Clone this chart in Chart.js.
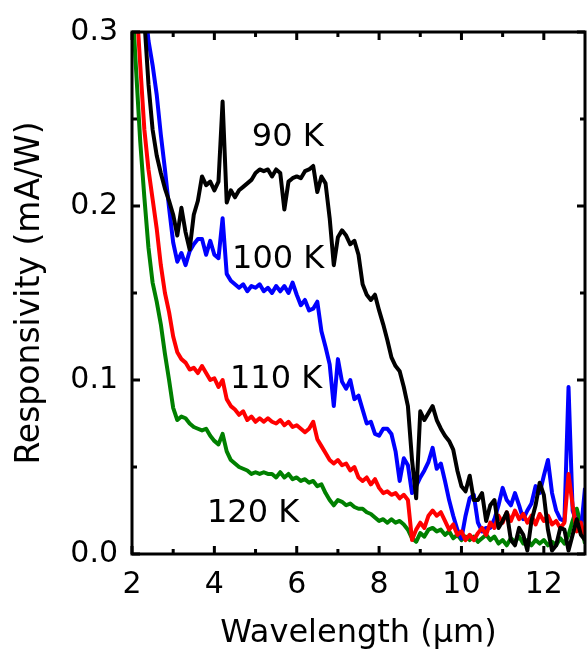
<!DOCTYPE html>
<html>
<head>
<meta charset="utf-8">
<script src="https://cdn.jsdelivr.net/npm/chart.js@4/dist/chart.umd.min.js"></script>
<style>
  html, body { margin: 0; padding: 0; background: #fff; }
  canvas { display: block; }
</style>
</head>
<body>
<canvas id="respChart" width="588" height="652"></canvas>
<script>
// wavelength grid (um) and responsivity (mA/W)
const wavelength = [
  2.0, 2.1, 2.2, 2.3, 2.4, 2.5, 2.6, 2.7, 2.8, 2.9,
  3.0, 3.1, 3.2, 3.3, 3.4, 3.5, 3.6, 3.7, 3.8, 3.9,
  4.0, 4.1, 4.2, 4.3, 4.4, 4.5, 4.6, 4.7, 4.8, 4.9,
  5.0, 5.1, 5.2, 5.3, 5.4, 5.5, 5.6, 5.7, 5.8, 5.9,
  6.0, 6.1, 6.2, 6.3, 6.4, 6.5, 6.6, 6.7, 6.8, 6.9,
  7.0, 7.1, 7.2, 7.3, 7.4, 7.5, 7.6, 7.7, 7.8, 7.9,
  8.0, 8.1, 8.2, 8.3, 8.4, 8.5, 8.6, 8.7, 8.8, 8.9,
  9.0, 9.1, 9.2, 9.3, 9.4, 9.5, 9.6, 9.7, 9.8, 9.9,
  10.0, 10.1, 10.2, 10.3, 10.4, 10.5, 10.6, 10.7, 10.8, 10.9,
  11.0, 11.1, 11.2, 11.3, 11.4, 11.5, 11.6, 11.7, 11.8, 11.9,
  12.0, 12.1, 12.2, 12.3, 12.4, 12.5, 12.6, 12.7, 12.8, 12.9,
  13.0
];

const resp90K = [
  0.36, 0.35, 0.33, 0.307, 0.270, 0.244, 0.229, 0.219, 0.210, 0.203,
  0.195, 0.183, 0.199, 0.185, 0.175, 0.195, 0.203, 0.217, 0.212, 0.214,
  0.209, 0.214, 0.260, 0.202, 0.209, 0.205, 0.209, 0.211, 0.213, 0.215,
  0.219, 0.221, 0.220, 0.221, 0.217, 0.221, 0.219, 0.198, 0.214, 0.216,
  0.217, 0.216, 0.220, 0.221, 0.223, 0.208, 0.217, 0.213, 0.193, 0.166,
  0.182, 0.186, 0.183, 0.178, 0.180, 0.172, 0.155, 0.149, 0.146, 0.149,
  0.140, 0.132, 0.123, 0.113, 0.108, 0.105, 0.096, 0.085, 0.054, 0.032,
  0.082, 0.077, 0.081, 0.085, 0.077, 0.072, 0.068, 0.065, 0.060, 0.048,
  0.039, 0.036, 0.045, 0.031, 0.031, 0.035, 0.019, 0.028, 0.031, 0.015,
  0.019, 0.024, 0.008, 0.005, 0.015, 0.011, 0.002, 0.019, 0.028, 0.041,
  0.034, 0.014, 0.002, 0.005, 0.015, 0.014, 0.002, 0.011, 0.020, 0.011,
  0.008
];

const resp100K = [
  0.38, 0.36, 0.34, 0.32, 0.295, 0.281, 0.264, 0.241, 0.221, 0.199,
  0.179, 0.168, 0.173, 0.166, 0.174, 0.178, 0.181, 0.181, 0.172, 0.180,
  0.172, 0.170, 0.193, 0.161, 0.157, 0.155, 0.153, 0.155, 0.151, 0.154,
  0.153, 0.155, 0.151, 0.153, 0.150, 0.154, 0.151, 0.154, 0.150, 0.156,
  0.149, 0.143, 0.146, 0.140, 0.141, 0.145, 0.128, 0.119, 0.109, 0.085,
  0.112, 0.099, 0.095, 0.100, 0.089, 0.091, 0.083, 0.075, 0.076, 0.069,
  0.068, 0.072, 0.072, 0.069, 0.059, 0.042, 0.055, 0.051, 0.035, 0.039,
  0.044, 0.048, 0.053, 0.061, 0.049, 0.052, 0.042, 0.031, 0.022, 0.014,
  0.009, 0.022, 0.032, 0.034, 0.018, 0.013, 0.015, 0.015, 0.020, 0.028,
  0.038, 0.031, 0.028, 0.035, 0.028, 0.020, 0.025, 0.029, 0.039, 0.035,
  0.045, 0.054, 0.035, 0.025, 0.020, 0.019, 0.096, 0.025, 0.018, 0.013,
  0.038
];

const resp110K = [
  0.34, 0.32, 0.281, 0.244, 0.221, 0.204, 0.187, 0.166, 0.150, 0.139,
  0.125, 0.116, 0.112, 0.110, 0.106, 0.107, 0.104, 0.108, 0.104, 0.100,
  0.101, 0.096, 0.100, 0.089, 0.085, 0.083, 0.080, 0.082, 0.077, 0.079,
  0.076, 0.078, 0.076, 0.078, 0.076, 0.075, 0.077, 0.074, 0.076, 0.073,
  0.074, 0.072, 0.070, 0.072, 0.076, 0.066, 0.062, 0.058, 0.054, 0.052,
  0.054, 0.051, 0.052, 0.048, 0.050, 0.044, 0.042, 0.044, 0.040, 0.043,
  0.038, 0.035, 0.036, 0.034, 0.035, 0.032, 0.034, 0.031, 0.008, 0.014,
  0.018, 0.015, 0.022, 0.025, 0.022, 0.024, 0.019, 0.014, 0.017, 0.011,
  0.013, 0.008, 0.011, 0.008, 0.012, 0.015, 0.011, 0.018, 0.015, 0.022,
  0.018, 0.024, 0.019, 0.025, 0.020, 0.023, 0.018, 0.022, 0.017, 0.023,
  0.019, 0.022, 0.017, 0.019, 0.015, 0.018, 0.046, 0.028, 0.013, 0.018,
  0.009
];

const resp120K = [
  0.32, 0.278, 0.237, 0.205, 0.176, 0.156, 0.145, 0.132, 0.115, 0.100,
  0.084, 0.077, 0.079, 0.078, 0.075, 0.073, 0.072, 0.071, 0.072, 0.068,
  0.065, 0.063, 0.069, 0.059, 0.054, 0.052, 0.050, 0.049, 0.048, 0.046,
  0.047, 0.046, 0.047, 0.046, 0.046, 0.044, 0.047, 0.044, 0.046, 0.043,
  0.044, 0.042, 0.043, 0.041, 0.042, 0.039, 0.040, 0.035, 0.031, 0.028,
  0.031, 0.030, 0.028, 0.029, 0.027, 0.026, 0.026, 0.024, 0.023, 0.021,
  0.019, 0.020, 0.018, 0.020, 0.018, 0.019, 0.017, 0.014, 0.009, 0.007,
  0.012, 0.010, 0.014, 0.015, 0.013, 0.014, 0.011, 0.013, 0.009, 0.011,
  0.008, 0.010, 0.008, 0.010, 0.007, 0.009, 0.011, 0.008, 0.010, 0.006,
  0.008, 0.005, 0.009, 0.007, 0.010, 0.006, 0.008, 0.005, 0.008, 0.006,
  0.008, 0.005, 0.007, 0.005, 0.009, 0.006, 0.011, 0.019, 0.026, 0.017,
  0.006
];

const xTickValues = [2, 4, 6, 8, 10, 12];
const xMinorValues = [3, 5, 7, 9, 11];
const yTickValues = [0, 0.1, 0.2, 0.3];
const yMinorValues = [0.05, 0.15, 0.25];

// curve labels and where they sit (left edge, vertical centre, data units)
const curveLabels = ["90 K", "100 K", "110 K", "120 K"];
const curveLabelX = [4.91, 4.43, 4.38, 3.82];
const curveLabelY = [0.239, 0.169, 0.100, 0.023];

const FONT = "'DejaVu Sans', 'Liberation Sans', sans-serif";

function toPoints(values) {
  return wavelength.map((w, i) => ({ x: w, y: values[i] }));
}

// frame, inward ticks on all four sides, and the temperature labels
const frameAndLabels = {
  id: "frameAndLabels",
  afterDatasetsDraw(chart) {
    const { ctx, chartArea: a, scales: { x, y } } = chart;
    ctx.save();
    ctx.strokeStyle = "#000";
    ctx.lineWidth = 3;
    ctx.beginPath();
    const xTick = (v, len) => {
      const px = x.getPixelForValue(v);
      ctx.moveTo(px, a.bottom); ctx.lineTo(px, a.bottom - len);
      ctx.moveTo(px, a.top); ctx.lineTo(px, a.top + len);
    };
    const yTick = (v, len) => {
      const py = y.getPixelForValue(v);
      ctx.moveTo(a.left, py); ctx.lineTo(a.left + len, py);
      ctx.moveTo(a.right, py); ctx.lineTo(a.right - len, py);
    };
    xTickValues.forEach(v => xTick(v, 8));
    xMinorValues.forEach(v => xTick(v, 5));
    yTickValues.forEach(v => yTick(v, 8));
    yMinorValues.forEach(v => yTick(v, 5));
    ctx.stroke();
    ctx.strokeRect(a.left, a.top, a.right - a.left, a.bottom - a.top);

    ctx.fillStyle = "#000";
    ctx.font = "32px " + FONT;
    ctx.textAlign = "left";
    ctx.textBaseline = "middle";
    curveLabels.forEach((t, i) => {
      ctx.fillText(t, x.getPixelForValue(curveLabelX[i]), y.getPixelForValue(curveLabelY[i]));
    });
    ctx.restore();
  }
};

const ctx = document.getElementById("respChart").getContext("2d");
new Chart(ctx, {
  type: "line",
  data: {
    datasets: [
      { label: "90 K", data: toPoints(resp90K), borderColor: "#000000", order: 0 },
      { label: "110 K", data: toPoints(resp110K), borderColor: "#ff0000", order: 1 },
      { label: "100 K", data: toPoints(resp100K), borderColor: "#0000ff", order: 2 },
      { label: "120 K", data: toPoints(resp120K), borderColor: "#008000", order: 3 }
    ]
  },
  options: {
    responsive: false,
    animation: false,
    events: [],
    layout: { padding: { top: 27, right: 3, left: 0, bottom: 0 } },
    elements: {
      point: { radius: 0 },
      line: { borderWidth: 4, tension: 0, fill: false, borderJoinStyle: "round" }
    },
    datasets: { line: { clip: 0 } },
    plugins: { legend: { display: false }, tooltip: { enabled: false } },
    scales: {
      x: {
        type: "linear",
        min: 2,
        max: 13,
        afterBuildTicks: s => { s.ticks = xTickValues.map(v => ({ value: v })); },
        afterFit: s => { s.height = 98; },
        grid: { display: false, drawTicks: false },
        border: { display: false },
        ticks: { color: "#000", padding: 13, maxRotation: 0, font: { family: FONT, size: 30 } },
        title: {
          display: true,
          text: "Wavelength (\u03bcm)",
          color: "#000",
          font: { family: FONT, size: 32, lineHeight: 1 },
          padding: { top: 0, bottom: 2 }
        }
      },
      y: {
        type: "linear",
        min: 0,
        max: 0.3,
        afterBuildTicks: s => { s.ticks = yTickValues.map(v => ({ value: v })); },
        afterFit: s => { s.width = 132; },
        grid: { display: false, drawTicks: false },
        border: { display: false },
        ticks: { color: "#000", padding: 14, font: { family: FONT, size: 30 }, callback: v => v.toFixed(1) },
        title: {
          display: true,
          text: "Responsivity (mA/W)",
          color: "#000",
          font: { family: FONT, size: 33, lineHeight: 1 },
          padding: { top: 14, bottom: 0 }
        }
      }
    }
  },
  plugins: [frameAndLabels]
});
</script>
</body>
</html>
